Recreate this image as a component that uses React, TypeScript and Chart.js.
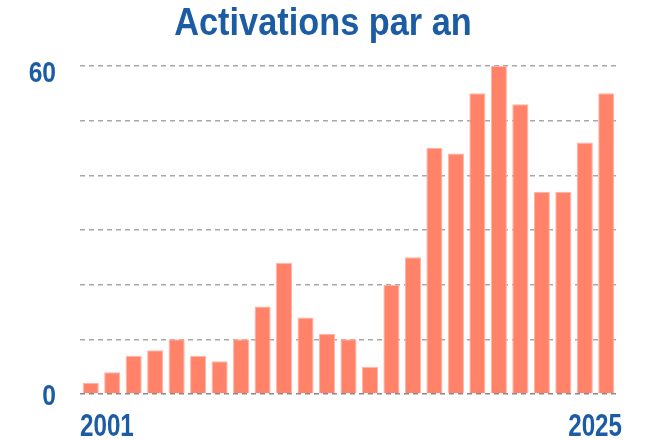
import React, { useEffect, useRef } from "react";
import { Chart, registerables } from "chart.js";

Chart.register(...registerables);

const years: string[] = [
  "2001", "2002", "2003", "2004", "2005", "2006", "2007", "2008", "2009", "2010",
  "2011", "2012", "2013", "2014", "2015", "2016", "2017", "2018", "2019", "2020",
  "2021", "2022", "2023", "2024", "2025",
];
const activations: number[] = [
  2, 4, 7, 8, 10, 7, 6, 10, 16, 24, 14, 11, 10, 5, 20, 25, 45, 44, 55, 60, 53, 37, 37, 46, 55,
];
const yTickLabels: number[] = [0, 60];
const titleText = "Activations par an";

const FONT = "'Liberation Sans', Arial, sans-serif";
const BLUE = "#1b5ca5";
const BAR = "#ff8269";

// Draws narrow (horizontally condensed) text, emulating Arial Narrow Bold.
function narrowText(ctx: CanvasRenderingContext2D, text: string, x: number, y: number, size: number, sx: number, align: CanvasTextAlign) {
  ctx.save();
  ctx.font = `bold ${size}px ${FONT}`;
  ctx.fillStyle = BLUE;
  ctx.textBaseline = "alphabetic";
  ctx.textAlign = align;
  ctx.translate(x, y);
  ctx.scale(sx, 1);
  ctx.fillText(text, 0, 0);
  ctx.restore();
}

const narrowLabels = {
  id: "narrowLabels",
  afterDraw(chart: any) {
    const ctx = chart.ctx as CanvasRenderingContext2D;
    const area = chart.chartArea;
    const xs = chart.scales.x;
    const ys = chart.scales.y;
    const labels = chart.data.labels as string[];
    // title
    narrowText(ctx, titleText, chart.width / 2, 35, 39, 0.88, "center");
    // y labels
    for (const v of yTickLabels) {
      const py = ys.getPixelForValue(v);
      narrowText(ctx, String(v), area.left - 24, Math.max(py + 11, area.top + 16), 30, 0.82, "right");
    }
    // x labels (first and last)
    const by = xs.top + 42;
    narrowText(ctx, labels[0], area.left, by, 31, 0.78, "left");
    narrowText(ctx, labels[labels.length - 1], area.right + 5, by, 31, 0.78, "right");
  },
};

export default function App() {
  const ref = useRef<HTMLCanvasElement | null>(null);
  useEffect(() => {
    if (!ref.current) return;
    const chart = new Chart(ref.current, {
      type: "bar",
      data: {
        labels: years,
        datasets: [
          {
            data: activations,
            backgroundColor: BAR,
            borderColor: "#ffb5a6",
            borderWidth: 1,
            barPercentage: 0.75,
            categoryPercentage: 1,
          },
        ],
      },
      options: {
        responsive: false,
        animation: false,
        layout: { padding: { left: 0, right: 29, top: 66, bottom: 0 } },
        plugins: {
          legend: { display: false },
          tooltip: { enabled: false },
          title: { display: false },
        },
        scales: {
          x: {
            grid: { display: false },
            border: { display: false },
            ticks: { display: false },
            afterFit(scale: any) {
              scale.height = 46;
            },
          },
          y: {
            min: 0,
            max: 60,
            grid: {
              color: (c: any) => (c.tick && c.tick.value === 0 ? "#8a8a8a" : "#a8a8a8"),
              lineWidth: 1.5,
              drawTicks: false,
            },
            border: { display: false, dash: [5, 4] },
            ticks: {
              stepSize: 10,
              display: false,
            },
            afterFit(scale: any) {
              scale.width = 80;
            },
          },
        },
      },
      plugins: [narrowLabels],
    });
    return () => chart.destroy();
  }, []);
  return (
    <div style={{ position: "absolute", left: 0, top: 0, width: 646, height: 440 }}>
      <canvas ref={ref} width={646} height={440} />
    </div>
  );
}
